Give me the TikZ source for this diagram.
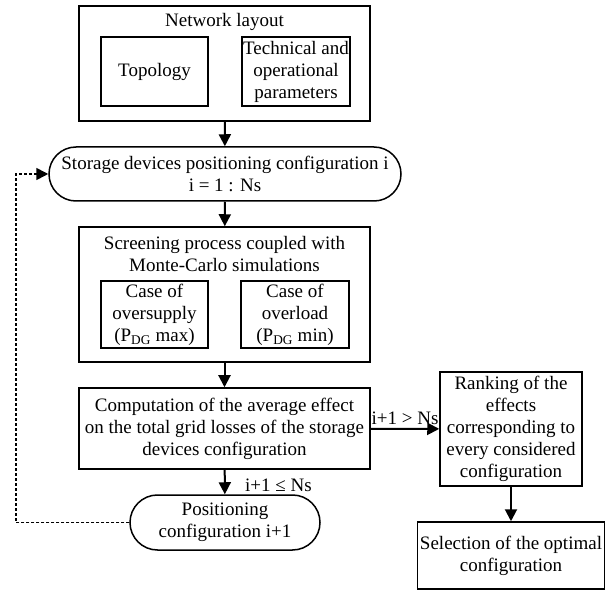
\documentclass[tikz,border=0pt]{standalone}
\usepackage{fontspec}
\setmainfont{Liberation Serif}
\usetikzlibrary{arrows.meta,positioning,shapes.misc}

\begin{document}
\begin{tikzpicture}[
    x=1pt, y=1pt,
    font=\fontsize{19}{22}\selectfont,
    box/.style={draw, line width=1.5pt, align=center, inner sep=1pt},
    pill/.style={draw, line width=1.5pt, rounded rectangle, align=center, inner sep=1pt},
    arrow/.style={-{Triangle[length=12pt, width=12pt]}, line width=2pt},
    loopback/.style={-{Triangle[length=12pt, width=12pt]}, line width=1.6pt, dash pattern=on 3pt off 2pt}
]
\useasboundingbox (0,0) rectangle (611,590);

% Network layout
\node[box, minimum width=291, minimum height=115] (net) at (224.5, 526.5) {};
\node (nettitle) at (224.5, 568) {Network layout};
\node[box, minimum width=107, minimum height=69] (topo) at (154.5, 518.5) {Topology};
\node[box, minimum width=107, minimum height=69] (param) at (296, 518.5) {Technical and\\operational\\parameters};

% Positioning configuration
\node[pill, minimum width=354, minimum height=54] (stor) at (225, 416) {Storage devices positioning configuration i\\i = 1 : Ns};

% Screening with Monte-Carlo
\node[box, minimum width=291, minimum height=135] (screen) at (224.5, 295.5) {};
\node[align=center] (screentitle) at (224.5, 335.5) {Screening process coupled with\\Monte-Carlo simulations};
\node[box, minimum width=107, minimum height=67] (supply) at (154.5, 275.5) {Case of\\oversupply\\(P\textsubscript{DG}\ max)};
\node[box, minimum width=108, minimum height=67] (load) at (295, 275.5) {Case of\\overload\\(P\textsubscript{DG}\ min)};

% Computation of losses
\node[box, minimum width=291, minimum height=81] (comp) at (224.5, 161.5) {Computation of the average effect\\on the total grid losses of the storage\\devices configuration};

% Next configuration
\node[pill, minimum width=192, minimum height=55] (next) at (225, 67.5) {Positioning\\configuration i+1};

% Ranking and selection
\node[box, minimum width=142, minimum height=114] (rank) at (511, 161) {Ranking of the\\effects\\corresponding to\\every considered\\configuration};
\node[box, minimum width=187, minimum height=67] (select) at (511, 34.5) {Selection of the optimal\\configuration};

% Arrows
\draw[arrow] (net) -- (stor);
\draw[arrow] (stor) -- (screen);
\draw[arrow] (screen) -- (comp);
\draw[arrow] (comp) -- (rank) node[midway, above, yshift=0pt] {i+1 > Ns};
\draw[arrow] (comp) -- (next) node[midway, right, xshift=16pt, yshift=-3pt] {i+1 ≤ Ns};
\draw[arrow] (rank) -- (select);

% Loop back
\coordinate (back) at (16, 67.5);
\draw[loopback] (next.west) -- (back) |- (stor.west);

\end{tikzpicture}
\end{document}
